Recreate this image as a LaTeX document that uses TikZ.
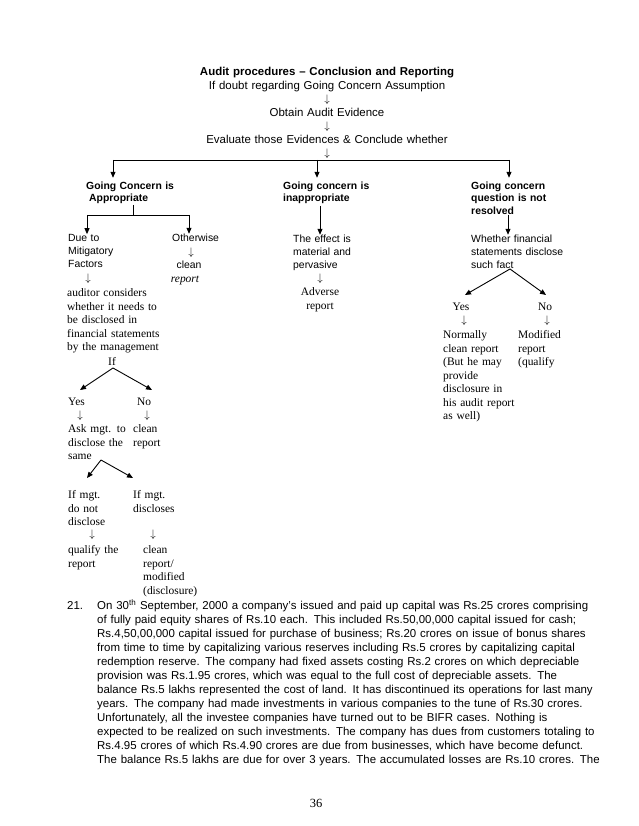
\documentclass[tikz,border=0pt]{standalone}
\usepackage{fontspec}
\setmainfont{Liberation Serif}
\newfontfamily\arialfont{Liberation Sans}
\usetikzlibrary{arrows.meta}
\def\pline#1{\makebox[489pt][s]{#1}}
\def\dnar{$\downarrow$}

\begin{document}
\begin{tikzpicture}[x=1pt, y=-1pt,
		sf/.style={font=\arialfont\fontsize{10.4}{13.2}\selectfont},
		sfb/.style={font=\arialfont\bfseries\fontsize{10.4}{12.5}\selectfont},
		rm/.style={font=\fontsize{11.46}{13.5}\selectfont},
		blk/.style={inner sep=0pt, anchor=base west, align=left, text width=#1},
		blk/.default=110pt,
		ctr/.style={inner sep=0pt, anchor=base, align=center, text width=#1},
		ctr/.default=60pt,
		dn/.style={font=\fontsize{10.5}{10.5}\selectfont, inner sep=0pt, anchor=base},
		arr/.style={line width=0.9pt, -{Triangle[length=6pt,width=5pt]}},
		ln/.style={line width=0.9pt}]
			%%%%% START %%%%%
			\fill[white] (0,0) rectangle (638,826);
			\useasboundingbox (0,0) rectangle (638,826);
			
			\node[ctr=330pt, font=\arialfont\fontsize{11.46}{13.5}\selectfont] (head) at (327,76) {\textbf{Audit procedures – Conclusion and Reporting}\\If doubt regarding Going Concern Assumption\\\dnar\\Obtain Audit Evidence\\\dnar\\Evaluate those Evidences \& Conclude whether\\\dnar};
			
			\coordinate (busL) at (113,160);
			\coordinate (busM) at (317,160);
			\coordinate (busR) at (509,160);
			\draw[ln] (busL) -- (busR);
			
			\node[sfb, blk] (gcApp) at (86,189.5) {Going Concern is\\\hspace*{3pt}Appropriate};
			\node[sfb, blk] (gcInapp) at (283,189.5) {Going concern is\\inappropriate};
			\node[sfb, blk] (gcNotRes) at (471,189.5) {Going concern\\question is not\\resolved};
			\draw[arr, shorten >=4pt] (busL) -- (busL |- gcApp.north);
			\draw[arr, shorten >=4pt] (busM) -- (busM |- gcInapp.north);
			\draw[arr, shorten >=4pt] (busR) -- (busR |- gcNotRes.north);
			
			% left branch
			\coordinate (tTop) at (133,205);
			\coordinate (tJoin) at (133,215);
			\coordinate (tL) at (87,215);
			\coordinate (tR) at (189,215);
			\node[sf, blk=90pt] (mitig) at (68,241.5) {Due to\\Mitigatory\\Factors};
			\node[sf, blk=60pt] (otherw) at (172,241.5) {Otherwise};
			\draw[ln] (tTop) -- (tJoin);
			\draw[ln] (tL) -- (tR);
			\draw[arr] (tL) -- (tL |- mitig.north);
			\draw[arr] (tR) -- (tR |- otherw.north);
			
			\node[dn] (owArrow) at (191,255) {\dnar};
			\node[sf, inner sep=0pt, anchor=base] (owClean) at (189,268.5) {clean};
			\node[inner sep=0pt, anchor=base, font=\fontsize{11.46}{13.5}\selectfont\itshape] (owReport) at (185,282) {report};
			
			\node[dn] (facArrow) at (88,281) {\dnar};
			\node[rm, blk=130pt] (audCons) at (67,296.5) {auditor considers\\whether it needs to\\be disclosed in\\financial statements\\by the management};
			\node[rm, inner sep=0pt, anchor=base] (ifN) at (112,365.5) {If};
			
			\coordinate (ifFork) at (113,368);
			\coordinate (yesTip) at (80,390);
			\coordinate (noTip) at (152,390);
			\draw[arr] (ifFork) -- (yesTip);
			\draw[arr] (ifFork) -- (noTip);
			
			\node[rm, blk=40pt] (yesL) at (68,405) {Yes};
			\node[rm, blk=40pt] (noL) at (137,405) {No};
			\node[dn] (yesArrow) at (80,418) {\dnar};
			\node[dn] (noArrow) at (147,418) {\dnar};
			\node[rm, blk=70pt] (askMgt) at (68,432.5) {Ask mgt. to\\disclose the\\same};
			\node[rm, blk=60pt] (cleanL) at (133,432.5) {clean\\report};
			
			\coordinate (sameFork) at (101,460);
			\coordinate (ndTip) at (87,478);
			\coordinate (dTip) at (133,478);
			\draw[arr] (sameFork) -- (ndTip);
			\draw[arr] (sameFork) -- (dTip);
			
			\node[rm, blk=60pt] (notDisc) at (68,498.5) {If mgt.\\do not\\disclose};
			\node[rm, blk=60pt] (doesDisc) at (133,498.5) {If mgt.\\discloses};
			\node[dn] (ndArrow) at (92,537.5) {\dnar};
			\node[dn] (dArrow) at (153,537.5) {\dnar};
			\node[rm, blk=70pt] (qualRep) at (68,553.5) {qualify the\\report};
			\node[rm, blk=70pt] (cleanMod) at (143,553.5) {clean\\report/\\modified\\(disclosure)};
			
			% middle branch
			\coordinate (inTop) at (320,206);
			\node[sf, blk=90pt] (effect) at (293,242.5) {The effect is\\material and\\pervasive};
			\draw[arr] (inTop) -- (inTop |- effect.north);
			\node[dn] (effArrow) at (320,281) {\dnar};
			\node[rm, ctr] (adverse) at (320,295.5) {Adverse\\report};
			
			% right branch
			\coordinate (nrTop) at (508,215);
			\node[sf, blk=120pt] (whether) at (471,242.5) {Whether financial\\statements disclose\\such fact};
			\draw[arr] (nrTop) -- (nrTop |- whether.north);
			
			\coordinate (factFork) at (510,269);
			\coordinate (yesRTip) at (465,295);
			\coordinate (noRTip) at (546,295);
			\draw[arr] (factFork) -- (yesRTip);
			\draw[arr] (factFork) -- (noRTip);
			
			\node[rm, inner sep=0pt, anchor=base] (yesR) at (461,310) {Yes};
			\node[rm, inner sep=0pt, anchor=base] (noR) at (545,310) {No};
			\node[dn] (yesRArrow) at (464,323) {\dnar};
			\node[dn] (noRArrow) at (547,323) {\dnar};
			\node[rm, blk=90pt] (normClean) at (443,338.5) {Normally\\clean report\\(But he may\\provide\\disclosure in\\his audit report\\as well)};
			\node[rm, blk=60pt] (modRep) at (518,338.5) {Modified\\report\\(qualify};
			
			% question 21
			\node[inner sep=0pt, anchor=base west, font=\arialfont\fontsize{11.46}{14}\selectfont] (qnum) at (67,609.5) {21.};
			\node[blk=489pt, font=\arialfont\fontsize{11.46}{14}\selectfont] (q21) at (97,609.5) {%
				\pline{On 30\textsuperscript{th} September, 2000 a company’s issued and paid up capital was Rs.25 crores comprising}\\
				\pline{of fully paid equity shares of Rs.10 each. This included Rs.50,00,000 capital issued for cash;}\\
				\pline{Rs.4,50,00,000 capital issued for purchase of business; Rs.20 crores on issue of bonus shares}\\
				\pline{from time to time by capitalizing various reserves including Rs.5 crores by capitalizing capital}\\
				\pline{redemption reserve. The company had fixed assets costing Rs.2 crores on which depreciable}\\
				\pline{provision was Rs.1.95 crores, which was equal to the full cost of depreciable assets. The}\\
				\pline{balance Rs.5 lakhs represented the cost of land. It has discontinued its operations for last many}\\
				\pline{years. The company had made investments in various companies to the tune of Rs.30 crores.}\\
				\pline{Unfortunately, all the investee companies have turned out to be BIFR cases. Nothing is}\\
				\pline{expected to be realized on such investments. The company has dues from customers totaling to}\\
				\pline{Rs.4.95 crores of which Rs.4.90 crores are due from businesses, which have become defunct.}\\
				\pline{The balance Rs.5 lakhs are due for over 3 years. The accumulated losses are Rs.10 crores. The}};
			
			\node[inner sep=0pt, anchor=base, font=\fontsize{12.5}{14}\selectfont] (pgno) at (316,807) {36};
			%%%%% END %%%%%
\end{tikzpicture}
\end{document}
